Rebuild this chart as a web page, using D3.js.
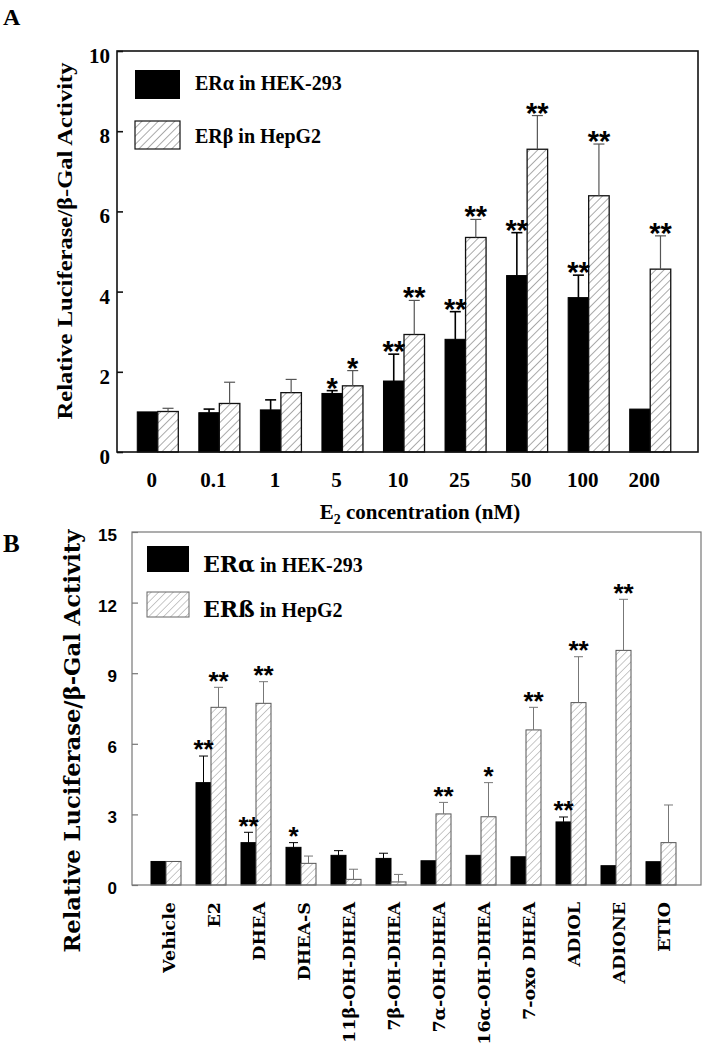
<!DOCTYPE html>
<html>
<head>
<meta charset="utf-8">
<script src="https://cdn.jsdelivr.net/npm/d3@7"></script>
<style>
  html, body { margin: 0; padding: 0; background: #fff; }
  svg { display: block; }
</style>
</head>
<body>
<svg id="chart" width="702" height="1050"></svg>
<script>
// ---------- Panel A data ----------
const concLabels = ["0", "0.1", "1", "5", "10", "25", "50", "100", "200"];
const aAlpha    = [1.00, 0.98, 1.05, 1.46, 1.77, 2.81, 4.40, 3.85, 1.07];
const aAlphaErr = [0.00, 0.09, 0.25, 0.07, 0.67, 0.69, 1.07, 0.56, 0.00];
const aBeta     = [1.01, 1.21, 1.48, 1.65, 2.93, 5.35, 7.55, 6.39, 4.56];
const aBetaErr  = [0.08, 0.53, 0.33, 0.38, 0.85, 0.45, 0.84, 1.29, 0.83];
const aAlphaSig = ["", "", "", "*", "**", "**", "**", "**", ""];
const aBetaSig  = ["", "", "", "*", "**", "**", "**", "**", "**"];
const aTicks = [0, 2, 4, 6, 8, 10];

// ---------- Panel B data ----------
const compounds = ["Vehicle", "E2", "DHEA", "DHEA-S", "11β-OH-DHEA", "7β-OH-DHEA",
  "7α-OH-DHEA", "16α-OH-DHEA", "7-oxo DHEA", "ADIOL", "ADIONE", "ETIO"];
const bAlpha    = [1.00, 4.35, 1.80, 1.60, 1.26, 1.13, 1.03, 1.26, 1.20, 2.68, 0.82, 0.99];
const bAlphaErr = [0.00, 1.13, 0.44, 0.20, 0.20, 0.22, 0.00, 0.00, 0.00, 0.21, 0.00, 0.00];
const bBeta     = [1.00, 7.55, 7.72, 0.92, 0.24, 0.13, 3.02, 2.90, 6.59, 7.75, 9.97, 1.80];
const bBetaErr  = [0.00, 0.85, 0.92, 0.31, 0.43, 0.32, 0.49, 1.45, 0.96, 1.95, 2.17, 1.60];
const bAlphaSig = ["", "**", "**", "*", "", "", "", "", "", "**", "", ""];
const bBetaSig  = ["", "**", "**", "", "", "", "**", "*", "**", "**", "**", ""];
const bTicks = [0, 3, 6, 9, 12, 15];

const yTitle = "Relative Luciferase/β-Gal Activity";

const svg = d3.select("#chart");
const defs = svg.append("defs");

function hatch(id, color, width, spacing) {
  const p = defs.append("pattern").attr("id", id)
    .attr("patternUnits", "userSpaceOnUse")
    .attr("width", spacing).attr("height", spacing)
    .attr("patternTransform", "rotate(45)");
  p.append("rect").attr("width", spacing).attr("height", spacing).attr("fill", "#fff");
  p.append("line").attr("x1", 0).attr("y1", 0).attr("x2", 0).attr("y2", spacing)
    .attr("stroke", color).attr("stroke-width", width);
}
hatch("hatchA", "#444", 0.9, 5.8);
hatch("hatchB", "#777", 0.8, 5.2);

const SERIF = "'Liberation Serif', 'Times New Roman', serif";
const SLAB = "'DejaVu Serif', serif";
const SANS = "'Liberation Sans', Arial, sans-serif";

function drawPanel(cfg) {
  const g = svg.append("g");
  const y = d3.scaleLinear().domain(cfg.yDomain).range([cfg.bottom, cfg.top]);
  const x0 = d3.scaleBand().domain(cfg.cats).range(cfg.xRange)
    .paddingInner(1 / 3).paddingOuter(1 / 6);
  const x1 = d3.scaleBand().domain(["alpha", "beta"]).range([0, x0.bandwidth()]);

  const rows = cfg.cats.map((c, i) => ({
    cat: c,
    alpha: cfg.alpha[i], alphaErr: cfg.alphaErr[i], alphaSig: cfg.alphaSig[i],
    beta: cfg.beta[i], betaErr: cfg.betaErr[i], betaSig: cfg.betaSig[i]
  }));

  // y axis (ticks pointing inward)
  const yAxis = d3.axisLeft(y).tickValues(cfg.ticks).tickSizeInner(-6).tickSizeOuter(0)
    .tickPadding(cfg.tickPad).tickFormat(d3.format("d"));
  const ya = g.append("g").attr("transform", `translate(${cfg.left},0)`).call(yAxis);
  ya.select(".domain").remove();
  ya.selectAll(".tick line").attr("stroke", cfg.frameColor).attr("stroke-width", cfg.frameWidth);
  ya.selectAll(".tick text")
    .attr("font-family", cfg.tickFont).attr("font-weight", "bold")
    .attr("font-size", cfg.tickSize).attr("fill", "#000")
    .attr("dy", cfg.tickDy);

  // bars
  const groups = g.selectAll(".grp").data(rows).join("g")
    .attr("transform", d => `translate(${x0(d.cat)},0)`);
  groups.append("rect")
    .attr("x", x1("alpha")).attr("width", x1.bandwidth())
    .attr("y", d => y(d.alpha)).attr("height", d => y(0) - y(d.alpha))
    .attr("fill", "#000").attr("stroke", "#000").attr("stroke-width", 1);
  groups.append("rect")
    .attr("x", x1("beta")).attr("width", x1.bandwidth())
    .attr("y", d => y(d.beta)).attr("height", d => y(0) - y(d.beta))
    .attr("fill", `url(#${cfg.hatchId})`).attr("stroke", cfg.hatchStroke).attr("stroke-width", cfg.hatchStrokeW);

  // error bars
  const capHalf = cfg.capHalf;
  function err(sel, key, color, w) {
    const cx = x1(key) + x1.bandwidth() / 2;
    const f = sel.filter(d => d[key + "Err"] > 0);
    f.append("line").attr("x1", cx).attr("x2", cx)
      .attr("y1", d => y(d[key])).attr("y2", d => y(d[key] + d[key + "Err"]))
      .attr("stroke", color).attr("stroke-width", w);
    f.append("line").attr("x1", cx - capHalf).attr("x2", cx + capHalf)
      .attr("y1", d => y(d[key] + d[key + "Err"])).attr("y2", d => y(d[key] + d[key + "Err"]))
      .attr("stroke", color).attr("stroke-width", w);
  }
  err(groups, "alpha", "#000", cfg.errAlphaW);
  err(groups, "beta", cfg.errBetaColor, cfg.errBetaW);

  // significance stars
  function stars(sel, key) {
    const cx = x1(key) + x1.bandwidth() / 2;
    sel.filter(d => d[key + "Sig"]).append("text")
      .attr("x", cx)
      .attr("y", d => y(d[key] + d[key + "Err"]) - cfg.starGap + cfg.starSize * 0.55)
      .attr("text-anchor", "middle")
      .attr("font-family", SANS).attr("font-weight", "bold")
      .attr("font-size", cfg.starSize).attr("fill", "#000")
      .text(d => d[key + "Sig"]);
  }
  stars(groups, "alpha");
  stars(groups, "beta");

  // frame
  g.append("rect").attr("x", cfg.left).attr("y", cfg.top)
    .attr("width", cfg.right - cfg.left).attr("height", cfg.bottom - cfg.top)
    .attr("fill", "none").attr("stroke", cfg.frameColor).attr("stroke-width", cfg.frameWidth);

  return { g, x0, y };
}

// ---------------- Panel A ----------------
const A = drawPanel({
  cats: concLabels, alpha: aAlpha, alphaErr: aAlphaErr, alphaSig: aAlphaSig,
  beta: aBeta, betaErr: aBetaErr, betaSig: aBetaSig,
  yDomain: [0, 10], ticks: aTicks,
  left: 117, right: 698, top: 51, bottom: 452, xRange: [127, 681],
  tickPad: 7, tickFont: SERIF, tickSize: 21, tickDy: "0.55em",
  frameColor: "#111", frameWidth: 1.6,
  hatchId: "hatchA", hatchStroke: "#111", hatchStrokeW: 1.3,
  capHalf: 5.5, errAlphaW: 1.6, errBetaColor: "#555", errBetaW: 1.2,
  starSize: 29, starGap: 9
});
// x labels A
A.g.selectAll(".xlab").data(concLabels).join("text")
  .attr("x", d => A.x0(d) + A.x0.bandwidth() / 2 - 6).attr("y", 487)
  .attr("text-anchor", "middle").attr("font-family", SERIF).attr("font-weight", "bold")
  .attr("font-size", 21).text(d => d);
// x title A
const xt = svg.append("text").attr("x", 420).attr("y", 519).attr("text-anchor", "middle")
  .attr("font-family", SERIF).attr("font-weight", "bold").attr("font-size", 21);
xt.append("tspan").text("E");
xt.append("tspan").attr("font-size", 14).attr("dy", 5).text("2");
xt.append("tspan").attr("dy", -5).text(" concentration (nM)");
// y title A
svg.append("text").attr("transform", "translate(72,241) rotate(-90)")
  .attr("text-anchor", "middle").attr("font-family", SERIF).attr("font-weight", "bold")
  .attr("font-size", 21).attr("textLength", 357).attr("lengthAdjust", "spacingAndGlyphs")
  .text(yTitle);
// panel letter A
svg.append("text").attr("x", 3).attr("y", 25).attr("font-family", SERIF)
  .attr("font-weight", "bold").attr("font-size", 24).text("A");
// legend A
svg.append("rect").attr("x", 135).attr("y", 70).attr("width", 45).attr("height", 29)
  .attr("fill", "#000");
svg.append("rect").attr("x", 135).attr("y", 121).attr("width", 45).attr("height", 28)
  .attr("fill", "url(#hatchA)").attr("stroke", "#111").attr("stroke-width", 1.2);
svg.append("text").attr("x", 195).attr("y", 90).attr("font-family", SERIF)
  .attr("font-weight", "bold").attr("font-size", 20).text("ERα in HEK-293");
svg.append("text").attr("x", 195).attr("y", 143).attr("font-family", SERIF)
  .attr("font-weight", "bold").attr("font-size", 20).text("ERβ in HepG2");

// ---------------- Panel B ----------------
const B = drawPanel({
  cats: compounds, alpha: bAlpha, alphaErr: bAlphaErr, alphaSig: bAlphaSig,
  beta: bBeta, betaErr: bBetaErr, betaSig: bBetaSig,
  yDomain: [0, 15], ticks: bTicks,
  left: 132, right: 701, top: 532, bottom: 885, xRange: [143.5, 683.5],
  tickPad: 15, tickFont: SANS, tickSize: 17, tickDy: "0.5em",
  frameColor: "#777", frameWidth: 1.2,
  hatchId: "hatchB", hatchStroke: "#555", hatchStrokeW: 1,
  capHalf: 4.5, errAlphaW: 1, errBetaColor: "#777", errBetaW: 1,
  starSize: 26, starGap: 12
});
// x labels B (rotated)
B.g.selectAll(".xlab").data(compounds).join("text")
  .attr("transform", d => `translate(${B.x0(d) + B.x0.bandwidth() / 2 + 3},902) rotate(-90)`)
  .attr("text-anchor", "end").attr("dy", "0.36em")
  .attr("font-family", SLAB).attr("font-weight", "bold").attr("font-size", 17.5)
  .text(d => d);
// y title B
svg.append("text").attr("transform", "translate(72,741) rotate(-90)")
  .attr("text-anchor", "middle").attr("dy", "0.35em").attr("font-family", SLAB).attr("font-weight", "bold")
  .attr("font-size", 23).attr("textLength", 423).attr("lengthAdjust", "spacingAndGlyphs")
  .text(yTitle);
// panel letter B
svg.append("text").attr("x", 3).attr("y", 552).attr("font-family", SERIF)
  .attr("font-weight", "bold").attr("font-size", 25).text("B");
// legend B
svg.append("rect").attr("x", 147).attr("y", 546).attr("width", 42).attr("height", 26)
  .attr("fill", "#000");
svg.append("rect").attr("x", 147).attr("y", 592).attr("width", 42).attr("height", 25)
  .attr("fill", "url(#hatchB)").attr("stroke", "#666").attr("stroke-width", 1);
const l1 = svg.append("text").attr("x", 203).attr("y", 572).attr("font-weight", "bold");
l1.append("tspan").attr("font-family", SLAB).attr("font-size", 22).text("ERα");
l1.append("tspan").attr("font-family", SERIF).attr("font-size", 20).text(" in HEK-293");
const l2 = svg.append("text").attr("x", 203).attr("y", 617).attr("font-weight", "bold");
l2.append("tspan").attr("font-family", SLAB).attr("font-size", 22).text("ERß");
l2.append("tspan").attr("font-family", SERIF).attr("font-size", 20).text(" in HepG2");
</script>
</body>
</html>
